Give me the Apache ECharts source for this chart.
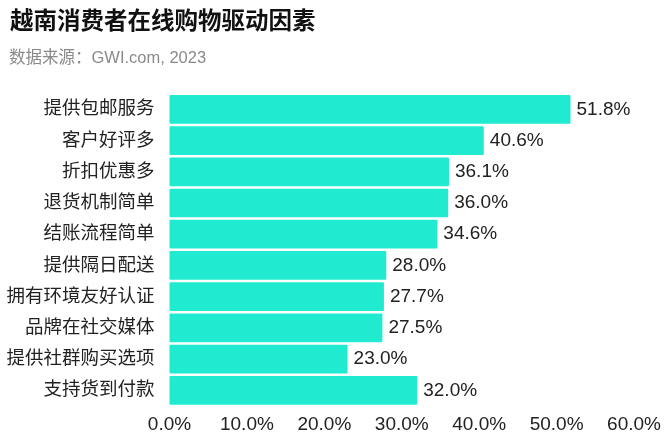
<!DOCTYPE html>
<html>
<head>
<meta charset="utf-8">
<script src="https://cdn.jsdelivr.net/npm/echarts@6/dist/echarts.min.js"></script>
<style>
html,body{margin:0;padding:0;background:#fff;}
#chart{width:664px;height:434px;}
</style>
</head>
<body>
<div id="chart"></div>
<script>
const categories = ["提供包邮服务","客户好评多","折扣优惠多","退货机制简单","结账流程简单","提供隔日配送","拥有环境友好认证","品牌在社交媒体","提供社群购买选项","支持货到付款"];
const values = [51.8, 40.6, 36.1, 36.0, 34.6, 28.0, 27.7, 27.5, 23.0, 32.0];
const xTicks = [0, 10, 20, 30, 40, 50, 60];

const font = '"Liberation Sans", "Noto Sans CJK SC", sans-serif';
const chart = echarts.init(document.getElementById('chart'));
chart.setOption({
  animation: false,
  backgroundColor: '#ffffff',
  title: [
    {text: '越南消费者在线购物驱动因素', left: 5, top: 6,
     textStyle: {fontFamily: font, fontSize: 23.5, fontWeight: 'bold', color: '#111111'}},
    {text: '数据来源：GWI.com, 2023', left: 4, top: 45,
     textStyle: {fontFamily: font, fontSize: 16.5, fontWeight: 'normal', color: '#8a8a8a'}}
  ],
  grid: {left: 169.5, right: 30, top: 93.7, bottom: 434 - 409.3, containLabel: false},
  xAxis: {
    type: 'value', min: xTicks[0], max: xTicks[xTicks.length - 1], interval: 10,
    axisLine: {show: false}, axisTick: {show: false}, splitLine: {show: false},
    axisLabel: {fontFamily: font, fontSize: 19, color: '#222222', margin: 9,
      formatter: v => v.toFixed(1) + '%'}
  },
  yAxis: {
    type: 'category', data: categories, inverse: true,
    axisLine: {show: false}, axisTick: {show: false},
    axisLabel: {fontFamily: font, fontSize: 18.5, color: '#222222', margin: 15}
  },
  series: [{
    type: 'bar', data: values, barCategoryGap: '8%',
    itemStyle: {color: '#20EBD0', borderRadius: 1},
    label: {show: true, position: 'right', distance: 6, fontFamily: font, fontSize: 19, color: '#222222',
      formatter: p => p.value.toFixed(1) + '%'}
  }]
});
</script>
</body>
</html>
